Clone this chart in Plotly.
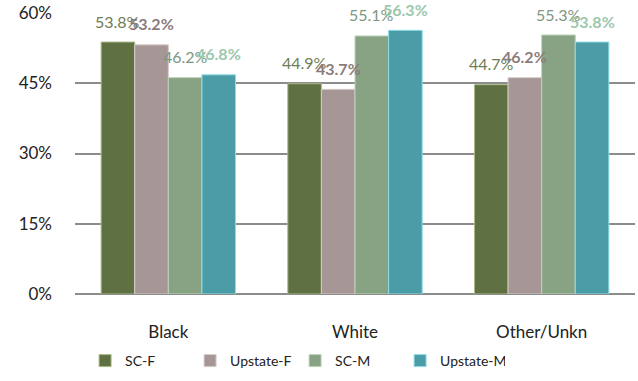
import plotly.graph_objects as go

categories = ["Black", "White", "Other/Unkn"]
series_names = ["SC-F", "Upstate-F", "SC-M", "Upstate-M"]
sc_f = [53.8, 44.9, 44.7]
upstate_f = [53.2, 43.7, 46.2]
sc_m = [46.2, 55.1, 55.3]
upstate_m = [46.8, 56.3, 53.8]
tick_vals = [0, 15, 30, 45, 60]
tick_text = ["0%", "15%", "30%", "45%", "60%"]

values = [sc_f, upstate_f, sc_m, upstate_m]
bar_colors = ["#5f7042", "#a69796", "#87a384", "#4b9ca6"]
line_colors = ["#a9bb86", "#d6cccc", "#bcd3b8", "#8fdde6"]
label_colors = ["#6e7d55", "#8c7c7c", "#7f9680", "#9cc7ad"]
label_bold = [False, True, False, True]

W, H = 638, 381
ml, mr, mt, mb = 75, 3, 13, 87
bargap = 0.28
plot_w = W - ml - mr
plot_h = H - mt - mb
cat_w = plot_w / len(categories)
bar_w = cat_w * (1 - bargap) / len(series_names)

FONT = "Lato, Open Sans, sans-serif"

fig = go.Figure()
for i, name in enumerate(series_names):
    fig.add_trace(go.Bar(
        x=categories, y=values[i], name=name,
        marker=dict(color=bar_colors[i], line=dict(color=line_colors[i], width=1)),
    ))

annotations = []
for i, name in enumerate(series_names):
    off = (i - 1.5) * bar_w
    for c, v in zip(categories, values[i]):
        txt = f"{v:.1f}%"
        if label_bold[i]:
            txt = f"<b>{txt}</b>"
        annotations.append(dict(
            x=c, y=v, xref="x", yref="y", text=txt, showarrow=False,
            xshift=off, yshift=21, yanchor="middle",
            font=dict(family=FONT, size=16, color=label_colors[i]),
        ))

fig.update_layout(
    width=W, height=H,
    margin=dict(l=ml, r=mr, t=mt, b=mb, autoexpand=False),
    paper_bgcolor="white", plot_bgcolor="white",
    barmode="group", bargap=bargap, bargroupgap=0.0,
    font=dict(family=FONT, size=16, color="#222"),
    xaxis=dict(showgrid=False, showline=False, ticks="", ticklabelstandoff=26,
               tickfont=dict(size=17)),
    yaxis=dict(range=[0, 60], tickvals=tick_vals, ticktext=tick_text,
               showgrid=True, gridcolor="#8c8c8c", gridwidth=2,
               zeroline=True, zerolinecolor="#8c8c8c", zerolinewidth=2,
               showline=False, ticks="", ticklabelstandoff=22,
               tickfont=dict(size=17)),
    legend=dict(orientation="h", x=0.018, xanchor="left",
                y=-(361 - (H - mb)) / plot_h, yanchor="middle",
                font=dict(size=14), itemwidth=30, tracegroupgap=0,
                entrywidth=60, entrywidthmode="pixels",
                bgcolor="rgba(0,0,0,0)"),
    annotations=annotations,
)

fig.write_html("out.html")
